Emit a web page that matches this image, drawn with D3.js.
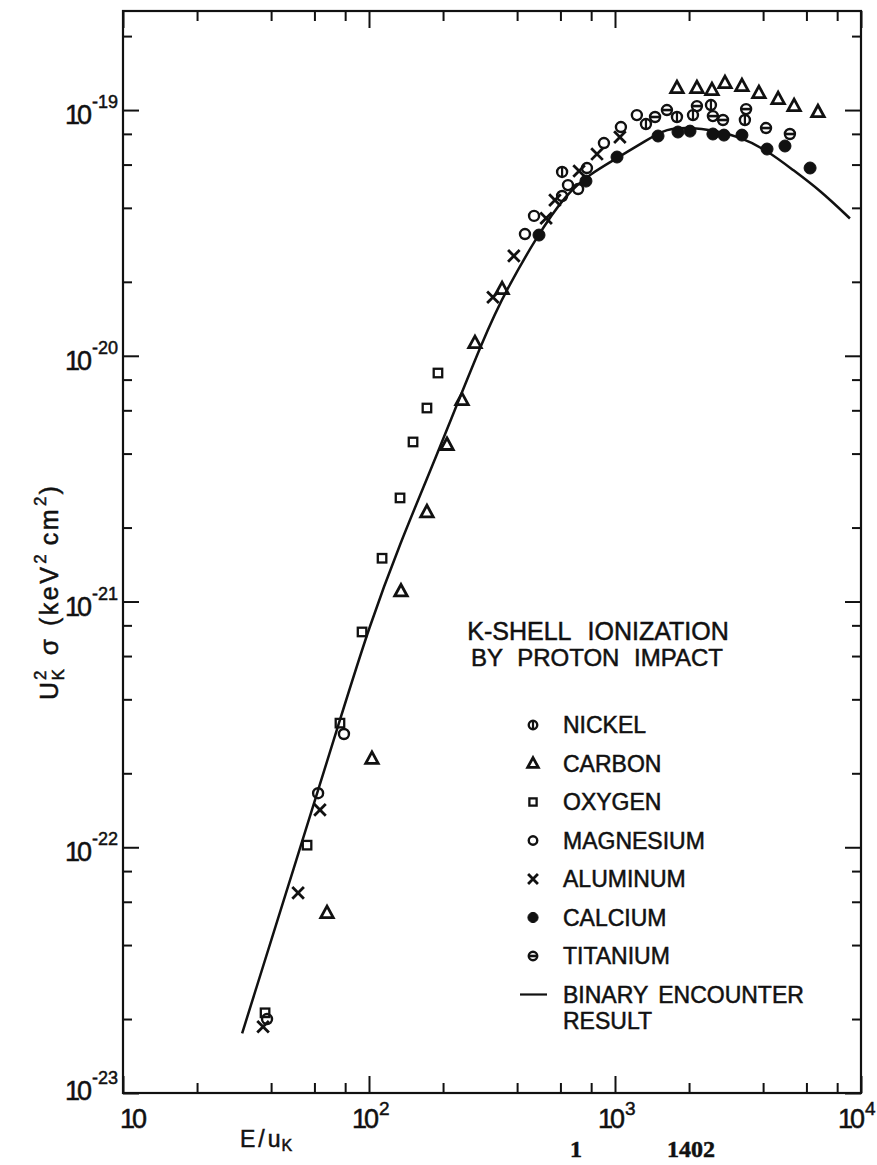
<!DOCTYPE html>
<html>
<head>
<meta charset="utf-8">
<script src="https://cdn.jsdelivr.net/npm/d3@7"></script>
<style>
body { margin: 0; background: #fff; }
text { font-family: "Liberation Sans", Arial, sans-serif; fill: #111; stroke: #111; stroke-width: 0.5px; }
</style>
</head>
<body>
<script>
var W = 877, H = 1165;
var plotLeft = 123, plotRight = 861, plotTop = 11, plotBottom = 1093;
var ink = "#111";

// axis ticks
var xMajor = [10, 100, 1000, 10000];
var xExp = ["", "2", "3", "4"];
var xMinor = [20, 40, 60, 80, 200, 400, 600, 800, 2000, 4000, 6000, 8000];
var yMajor = [1e-23, 1e-22, 1e-21, 1e-20, 1e-19];
var yExp = ["-23", "-22", "-21", "-20", "-19"];
var yMinor = [2e-23, 4e-23, 6e-23, 8e-23, 2e-22, 4e-22, 6e-22, 8e-22, 2e-21, 4e-21, 6e-21, 8e-21,
              2e-20, 4e-20, 6e-20, 8e-20, 2e-19];
var yMax = 2.53e-19;

// binary encounter result
var curveE = [30.5, 50, 76.2, 100, 133.7, 182, 300.6, 362, 480, 635, 794, 1000, 1346, 1622, 2018, 2500, 3221, 4140, 5297, 6808, 9016];
var curveSigma = [1.75e-23, 8.5e-23, 3.3e-22, 7.9e-22, 1.73e-21, 3.6e-21, 1.27e-20, 1.85e-20, 3.05e-20, 4.58e-20, 5.5e-20, 6.3e-20,
                  7.55e-20, 8.43e-20, 8.5e-20, 8.3e-20, 7.78e-20, 6.87e-20, 5.7e-20, 4.72e-20, 3.62e-20];

// measured points
var nickelE = [609.5, 1336, 1786, 2075, 2455, 3373];
var nickelSigma = [5.6e-20, 8.77e-20, 9.37e-20, 9.54e-20, 1.048e-19, 9.11e-20];

var carbonE = [67.5, 102.8, 134.9, 172, 207.5, 238.8, 269.6, 347.5, 1786, 2153, 2478, 2799, 3281, 3846, 4603, 5346, 6683];
var carbonSigma = [5.4e-23, 2.29e-22, 1.1e-21, 2.31e-21, 4.34e-21, 6.61e-21, 1.127e-20, 1.87e-20,
                   1.229e-19, 1.229e-19, 1.206e-19, 1.288e-19, 1.252e-19, 1.173e-19, 1.109e-19, 1.038e-19, 9.81e-20];

var oxygenE = [37.8, 56.0, 76.2, 93.7, 113, 133.7, 151, 172, 190.7];
var oxygenSigma = [2.12e-23, 1.02e-22, 3.2e-22, 7.52e-22, 1.5e-21, 2.64e-21, 4.46e-21, 6.13e-21, 8.51e-21];

var magnesiumE = [38.5, 62.1, 79.1, 430.5, 468.8, 609.5, 644, 708, 769, 901.6, 1057, 1227];
var magnesiumSigma = [2.0e-23, 1.66e-22, 2.89e-22, 3.13e-20, 3.71e-20, 4.47e-20, 4.95e-20, 4.77e-20, 5.81e-20, 7.34e-20, 8.53e-20, 9.54e-20];

var aluminumE = [37.1, 51.5, 63.2, 319, 388, 524.8, 570, 714.5, 845, 1047];
var aluminumSigma = [1.86e-23, 6.52e-23, 1.42e-22, 1.73e-20, 2.55e-20, 3.63e-20, 4.3e-20, 5.65e-20, 6.62e-20, 7.76e-20];

var calciumE = [491, 762, 1019, 1496, 1803, 2018, 2500, 2773, 3281, 4150, 4909, 6209];
var calciumSigma = [3.1e-20, 5.14e-20, 6.44e-20, 7.84e-20, 8.14e-20, 8.21e-20, 7.99e-20, 7.91e-20, 7.91e-20, 6.94e-20, 7.14e-20, 5.81e-20];

var titaniumE = [1455, 1626, 2153, 2500, 2748, 3412, 4111, 5140];
var titaniumSigma = [9.37e-20, 1.0e-19, 1.038e-19, 9.45e-20, 9.11e-20, 1.009e-19, 8.45e-20, 7.99e-20];

var seriesNames = ["NICKEL", "CARBON", "OXYGEN", "MAGNESIUM", "ALUMINUM", "CALCIUM", "TITANIUM"];
var seriesShapes = ["circleV", "triangle", "square", "circle", "cross", "dot", "circleH"];
var seriesE = [nickelE, carbonE, oxygenE, magnesiumE, aluminumE, calciumE, titaniumE];
var seriesSigma = [nickelSigma, carbonSigma, oxygenSigma, magnesiumSigma, aluminumSigma, calciumSigma, titaniumSigma];

var svg = d3.select("body").append("svg")
  .attr("width", W).attr("height", H)
  .style("display", "block");

svg.append("rect").attr("width", W).attr("height", H).attr("fill", "#fff");

var x = d3.scaleLog().domain([10, 10000]).range([plotLeft, plotRight]);
var y = d3.scaleLog().domain([1e-23, yMax]).range([plotBottom, plotTop]);

// ticks on all four sides, pointing inward
function tickAxis(axisFn, scale, values, size, tx, ty) {
  var g = svg.append("g")
    .attr("transform", "translate(" + tx + "," + ty + ")")
    .call(axisFn(scale).tickValues(values).tickSize(-size).tickSizeOuter(0).tickFormat(""));
  g.select(".domain").remove();
  g.selectAll(".tick line").attr("stroke", ink).attr("stroke-width", 2);
}
tickAxis(d3.axisBottom, x, xMajor, 17, 0, plotBottom);
tickAxis(d3.axisBottom, x, xMinor, 10, 0, plotBottom);
tickAxis(d3.axisTop, x, xMajor, 17, 0, plotTop);
tickAxis(d3.axisTop, x, xMinor, 10, 0, plotTop);
tickAxis(d3.axisLeft, y, yMajor, 16, plotLeft, 0);
tickAxis(d3.axisLeft, y, yMinor, 9, plotLeft, 0);
tickAxis(d3.axisRight, y, yMajor, 16, plotRight, 0);
tickAxis(d3.axisRight, y, yMinor, 9, plotRight, 0);

svg.append("rect")
  .attr("x", plotLeft).attr("y", plotTop)
  .attr("width", plotRight - plotLeft).attr("height", plotBottom - plotTop)
  .attr("fill", "none").attr("stroke", ink).attr("stroke-width", 2.2);

// y tick labels
yMajor.forEach(function(v, i) {
  var t = svg.append("text")
    .attr("x", plotLeft - 5)
    .attr("y", y(v) + (i === 0 ? 7 : 14))
    .attr("text-anchor", "end");
  t.append("tspan").attr("font-size", 27).attr("letter-spacing", -3).text("10");
  t.append("tspan").attr("font-size", 18).attr("dx", 3).attr("dy", -16).text(yExp[i]);
});

// x tick labels
xMajor.forEach(function(v, i) {
  var t = svg.append("text")
    .attr("x", x(v) + (i === 0 ? -3 : (i === 3 ? -23 : -17)))
    .attr("y", 1128);
  t.append("tspan").attr("font-size", 27).attr("letter-spacing", -3).text("10");
  if (xExp[i]) t.append("tspan").attr("font-size", 19).attr("dx", 3).attr("dy", -13).text(xExp[i]);
});

// axis titles
var xt = svg.append("text").attr("x", 240).attr("y", 1147);
xt.append("tspan").attr("font-size", 23).attr("letter-spacing", 3).text("E/u");
xt.append("tspan").attr("font-size", 16).attr("dx", -2).attr("dy", 4).text("K");

var yt = svg.append("text")
  .attr("transform", "translate(58,700) rotate(-90)");
yt.append("tspan").attr("font-size", 25).text("U");
yt.append("tspan").attr("font-size", 17).attr("dx", 2).attr("dy", -12).text("2");
yt.append("tspan").attr("font-size", 17).attr("dx", -10).attr("dy", 18).text("K");
yt.append("tspan").attr("font-size", 26).attr("dx", 14).attr("dy", -6).text("σ");
yt.append("tspan").attr("font-size", 25).attr("dx", 13).attr("letter-spacing", 2.5).text("(keV");
yt.append("tspan").attr("font-size", 17).attr("dx", 1).attr("dy", -12).text("2");
yt.append("tspan").attr("font-size", 25).attr("dx", 9).attr("dy", 12).attr("letter-spacing", 2.5).text("cm");
yt.append("tspan").attr("font-size", 17).attr("dx", 1).attr("dy", -12).text("2");
yt.append("tspan").attr("font-size", 25).attr("dx", 2).attr("dy", 12).text(")");

// binary encounter curve
var line = d3.line()
  .x(function(d) { return x(d[0]); })
  .y(function(d) { return y(d[1]); })
  .curve(d3.curveBasis);
svg.append("path")
  .datum(curveE.map(function(e, i) { return [e, curveSigma[i]]; }))
  .attr("d", line)
  .attr("fill", "none").attr("stroke", ink).attr("stroke-width", 2.5);

function drawMarker(g, shape, cx, cy, k) {
  var m = g.append("g").attr("transform", "translate(" + cx + "," + cy + ")");
  var sw = 2.4;
  if (shape === "circle" || shape === "circleV" || shape === "circleH" || shape === "dot") {
    var r = (shape === "dot" ? 6 : 5) * k;
    m.append("circle").attr("r", r)
      .attr("fill", shape === "dot" ? ink : "none")
      .attr("stroke", ink).attr("stroke-width", shape === "dot" ? 1 : sw);
    if (shape === "circleV") m.append("line").attr("x1", 0).attr("x2", 0).attr("y1", -r).attr("y2", r)
      .attr("stroke", ink).attr("stroke-width", 2.2);
    if (shape === "circleH") m.append("line").attr("x1", -r).attr("x2", r).attr("y1", 0).attr("y2", 0)
      .attr("stroke", ink).attr("stroke-width", 2.6);
  } else if (shape === "triangle") {
    var w = 12.5 * k, h = 11.5 * k;
    m.append("path")
      .attr("d", "M0," + (-h * 0.6) + "L" + (w / 2) + "," + (h * 0.4) + "L" + (-w / 2) + "," + (h * 0.4) + "Z")
      .attr("fill", "none").attr("stroke", ink).attr("stroke-width", 2.8).attr("stroke-linejoin", "miter");
  } else if (shape === "square") {
    var s = 8.5 * k;
    m.append("rect").attr("x", -s / 2).attr("y", -s / 2).attr("width", s).attr("height", s)
      .attr("fill", "none").attr("stroke", ink).attr("stroke-width", 2.3);
  } else if (shape === "cross") {
    var c = 5.8 * k;
    m.append("path")
      .attr("d", "M" + (-c) + "," + (-c) + "L" + c + "," + c + "M" + (-c) + "," + c + "L" + c + "," + (-c))
      .attr("stroke", ink).attr("stroke-width", 2.8);
  }
}

var pts = svg.append("g");
seriesNames.forEach(function(name, si) {
  seriesE[si].forEach(function(e, j) {
    drawMarker(pts, seriesShapes[si], x(e), y(seriesSigma[si][j]), 1);
  });
});

// title and legend
var title = svg.append("g");
title.append("text").attr("x", 598).attr("y", 640).attr("text-anchor", "middle")
  .attr("font-size", 25).attr("word-spacing", 10).text("K-SHELL IONIZATION");
title.append("text").attr("x", 597).attr("y", 666).attr("text-anchor", "middle")
  .attr("font-size", 24).attr("word-spacing", 8).text("BY PROTON IMPACT");

var legend = svg.append("g");
var legendTop = 725, legendStep = 38.5;
seriesNames.forEach(function(name, i) {
  var ly = legendTop + i * legendStep;
  drawMarker(legend, seriesShapes[i], 533, ly, 0.85);
  legend.append("text").attr("x", 563).attr("y", ly + 8).attr("font-size", 23).text(name);
});
var lastY = legendTop + 7 * legendStep;
legend.append("line").attr("x1", 520).attr("x2", 547).attr("y1", lastY).attr("y2", lastY)
  .attr("stroke", ink).attr("stroke-width", 2.2);
legend.append("text").attr("x", 563).attr("y", lastY + 8).attr("font-size", 23).attr("word-spacing", 4).text("BINARY ENCOUNTER");
legend.append("text").attr("x", 563).attr("y", lastY + 34).attr("font-size", 23).text("RESULT");

// page marks at the bottom
svg.append("text").attr("x", 570).attr("y", 1157)
  .style("font-family", "'Liberation Serif', serif").attr("font-weight", "bold").attr("font-size", 24).text("1");
svg.append("text").attr("x", 667).attr("y", 1157)
  .style("font-family", "'Liberation Serif', serif").attr("font-weight", "bold").attr("font-size", 24).text("1402");
</script>
</body>
</html>
